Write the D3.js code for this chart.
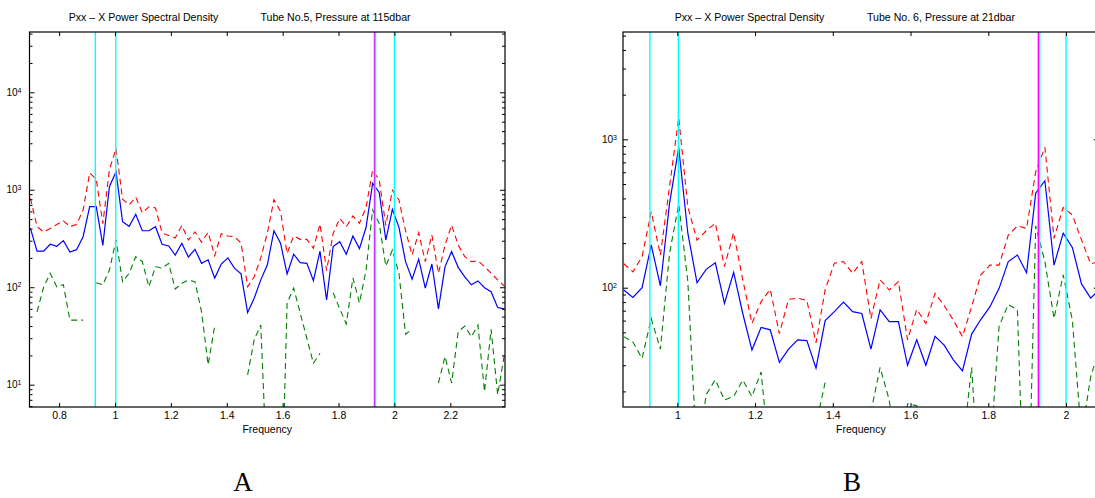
<!DOCTYPE html>
<html><head><meta charset="utf-8">
<script src="https://cdn.jsdelivr.net/npm/d3@7"></script>
<style>
body{margin:0;background:#fff}
svg{display:block}
text{font-family:"Liberation Sans",Arial,Helvetica,sans-serif;fill:#000}
</style>
</head><body>
<svg id="c" width="1095" height="498"></svg>
<script>
// ---- frequency grid (cycles per day), read from point positions ----
const freq = [0.6974,0.7210,0.7445,0.7681,0.7916,0.8152,0.8387,0.8623,0.8858,0.9094,
0.9329,0.9565,0.9800,1.0036,1.0271,1.0507,1.0742,1.0978,1.1213,1.1449,
1.1684,1.1920,1.2155,1.2391,1.2626,1.2862,1.3097,1.3333,1.3568,1.3804,
1.4039,1.4275,1.4510,1.4746,1.4981,1.5217,1.5452,1.5688,1.5923,1.6159,
1.6394,1.6630,1.6865,1.7101,1.7336,1.7572,1.7807,1.8043,1.8278,1.8514,
1.8749,1.8985,1.9220,1.9456,1.9691,1.9927,2.0162,2.0398,2.0633,2.0869,
2.1104,2.1340,2.1575,2.1811,2.2046,2.2282,2.2517,2.2753,2.2988,2.3224,
2.3459,2.3695,2.3930];

// ---- Panel A: Tube No.5, 115 dbar ----
const psdA = [402,235,235,276,263,301,230,243,330,670,
670,269,1074,1528,470,422,560,380,380,418,
276,265,214,283,204,245,176,191,124,173,
200,157,137,55,77,119,170,380,283,137,
218,179,176,117,234,74,261,293,218,336,
249,412,1163,940,305,630,412,183,121,194,
98,173,60,163,232,160,128,106,116,99,
90,62,60];
const upperA = [816,418,370,400,440,480,420,440,620,1490,
1280,450,1600,2650,800,700,840,580,670,650,
360,340,320,430,305,370,290,365,210,355,
335,330,285,101,128,200,360,790,600,222,
336,310,310,251,445,148,357,509,418,538,
453,661,1592,1257,430,990,784,380,214,363,
183,344,139,271,434,271,206,183,186,163,
139,119,103];
const lowerA = [null,56,100,139,101,106,46,46,46,null,
111,106,150,305,114,139,206,183,101,163,
157,176,96,110,118,114,56,16,40,null,
null,null,null,12.6,29,41,1.0,0.5,0.2,69,
98,54,30,16.6,21,null,88,60,42,125,
69,150,620,450,165,241,139,33,37,null,
null,null,10.4,19.5,10.4,35,40,31,41,8.5,
37,7.9,20];

// ---- Panel B: Tube No.6, 21 dbar (starts at freq[7]) ----
const startB = 7;
const psdB = [96.5,86,100,194,103,370,880,233,108,133,
147,78.5,127,67,38,54,52,31.4,38.5,44.5,
44,28.7,60,69,80,69,67,38.5,71,59,
59,30,44.5,30,47,41,32.6,27.5,48.7,61,
74.5,99,150,166,126,433,526,142,233,187,
106,85,98];
const upperB = [145,128,162,325,166,480,1400,350,209,242,
272,139,235,113,57.5,80.5,97.5,49,83.6,85,
82,42.5,97,146,150,125,150,62,113,96.5,
110,44.5,71.5,57.5,91.6,76,60.5,46.8,74.5,122,
142,142,226,261,251,605,884,215,348,309,
210,145,150];
const lowerB = [46.8,43,33.4,62,38.5,170,366,110,7,19,
24,17.5,18.5,23.9,18.5,27,6.5,13,null,4,
6,12,23,null,10,13,null,14.5,29,17.5,
6,16.5,16,2.5,2.4,6,4.7,8.2,29,3,
7,55,77,71,1,261,150,62,122,60.5,
10,25,40];

// ---- reference lines (tidal constituents) ----
const cyanLines = [0.9295, 1.0027, 1.9323, 2.0];
const magentaLines = [1.929];

const xTicksA = [0.8,1,1.2,1.4,1.6,1.8,2,2.2];
const xTicksB = [1,1.2,1.4,1.6,1.8,2];

const titleLeft = "Pxx \u2013 X Power Spectral Density";
const titleRightA = "Tube No.5, Pressure at 115dbar";
const titleRightB = "Tube No. 6, Pressure at 21dbar";

const svg = d3.select("#c");
const defs = svg.append("defs");

function panel(o){
  const x = d3.scaleLinear().domain(o.xDom).range([o.x0,o.x1]);
  const y = d3.scaleLog().domain(o.yDom).range([o.y1,o.y0]);
  const g = svg.append("g");
  defs.append("clipPath").attr("id",o.id).append("rect")
    .attr("x",o.x0).attr("y",o.y0).attr("width",o.x1-o.x0).attr("height",o.y1-o.y0);
  const p = g.append("g").attr("clip-path",`url(#${o.id})`);

  const pts = vals => vals.map((v,i)=>[o.f[i],v]);
  const line = d3.line().defined(d=>d[1]!=null && d[1]>0).x(d=>x(d[0])).y(d=>y(d[1]));

  p.append("path").attr("d",line(pts(o.psd))).attr("fill","none")
    .attr("stroke","#0000ff").attr("stroke-width",1.2);
  p.append("path").attr("d",line(pts(o.up))).attr("fill","none")
    .attr("stroke","#ff0000").attr("stroke-width",1.1).attr("stroke-dasharray","6,4");
  p.append("path").attr("d",line(pts(o.lo))).attr("fill","none")
    .attr("stroke","#007f00").attr("stroke-width",1.1).attr("stroke-dasharray","6,4");

  magentaLines.forEach(v=>{
    p.append("line").attr("x1",x(v)).attr("x2",x(v)).attr("y1",o.y0).attr("y2",o.y1)
      .attr("stroke","#ff00ff").attr("stroke-width",1.6);
  });
  cyanLines.forEach(v=>{
    p.append("line").attr("x1",x(v)).attr("x2",x(v)).attr("y1",o.y0).attr("y2",o.y1)
      .attr("stroke","#00ffff").attr("stroke-width",1.4);
  });

  // axes
  const fmtX = d=>String(+d.toFixed(1));
  const allY = y.ticks();
  const majY = allY.filter(d=>Math.abs(Math.log10(d)-Math.round(Math.log10(d)))<1e-9);
  const minY = allY.filter(d=>!majY.includes(d));
  const clean = s=>s.select(".domain").remove();

  g.append("g").attr("transform",`translate(0,${o.y1})`)
    .call(d3.axisBottom(x).tickValues(o.xTicks).tickSize(-4).tickPadding(5).tickFormat(fmtX))
    .call(clean).call(s=>s.selectAll("text").attr("font-size",10.5).attr("fill","#000"));
  g.append("g").attr("transform",`translate(0,${o.y0})`)
    .call(d3.axisTop(x).tickValues(o.xTicks).tickSize(-4).tickFormat(""))
    .call(clean);
  g.append("g").attr("transform",`translate(${o.x0},0)`)
    .call(d3.axisLeft(y).tickValues(minY).tickSize(-3).tickFormat(""))
    .call(clean);
  g.append("g").attr("transform",`translate(${o.x1},0)`)
    .call(d3.axisRight(y).tickValues(minY).tickSize(-3).tickFormat(""))
    .call(clean);
  g.append("g").attr("transform",`translate(${o.x1},0)`)
    .call(d3.axisRight(y).tickValues(majY).tickSize(-5).tickFormat(""))
    .call(clean);
  const yl = g.append("g").attr("transform",`translate(${o.x0},0)`)
    .call(d3.axisLeft(y).tickValues(majY).tickSize(-5).tickPadding(o.pad))
    .call(clean);
  yl.selectAll(".tick text").each(function(d){
    const t = d3.select(this);
    t.text(null).attr("font-size",10).attr("fill","#000");
    t.append("tspan").text("10");
    t.append("tspan").attr("dy","-0.5em").attr("font-size","0.7em").text(Math.round(Math.log10(d)));
  });
  g.selectAll(".tick line").attr("stroke","#000");

  g.append("rect").attr("x",o.x0).attr("y",o.y0).attr("width",o.x1-o.x0).attr("height",o.y1-o.y0)
    .attr("fill","none").attr("stroke","#000").attr("stroke-width",1.2);

  g.append("text").attr("x",(o.x0+o.x1)/2).attr("y",o.y1+26).attr("text-anchor","middle")
    .attr("font-size",10.5).text("Frequency");
  g.append("text").attr("x",o.t1x).attr("y",21).attr("text-anchor","middle").attr("font-size",10.6).text(titleLeft);
  g.append("text").attr("x",o.t2x).attr("y",21).attr("text-anchor","middle").attr("font-size",10.6).text(o.t2);
  svg.append("text").attr("x",o.lx).attr("y",491).attr("text-anchor","middle")
    .style("font-family","'Liberation Serif','DejaVu Serif',serif").attr("font-size",27).text(o.label);
}

panel({id:"clipA", x0:29.5, x1:505, y0:32, y1:407, xDom:[0.694,2.3957], yDom:[5.905,41560],
  f:freq, psd:psdA, up:upperA, lo:lowerA, xTicks:xTicksA, pad:8,
  t1x:143.5, t2x:335.5, t2:titleRightA, lx:243, label:"A"});
panel({id:"clipB", x0:623, x1:1098.8, y0:32, y1:407, xDom:[0.8603,2.0843], yDom:[15.7,5290],
  f:freq.slice(startB), psd:psdB, up:upperB, lo:lowerB, xTicks:xTicksB, pad:6,
  t1x:749.5, t2x:941, t2:titleRightB, lx:852, label:"B"});
</script>
</body></html>
